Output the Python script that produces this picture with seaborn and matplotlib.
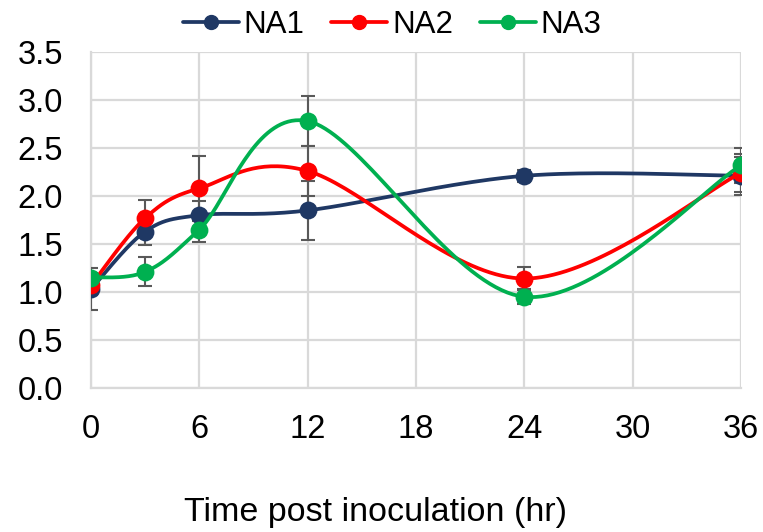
import numpy as np
import pandas as pd
import seaborn as sns
import matplotlib.pyplot as plt
from matplotlib.lines import Line2D

# values
hours = [0, 3, 6, 12, 24, 36]
na1 = [1.03, 1.63, 1.80, 1.85, 2.21, 2.21]
na2 = [1.07, 1.77, 2.08, 2.26, 1.14, 2.24]
na3 = [1.15, 1.21, 1.65, 2.78, 0.95, 2.32]
na1_err = [0.22, 0.14, 0.15, 0.31, 0.06, 0.20]
na2_err = [0.10, 0.19, 0.34, 0.26, 0.12, 0.20]
na3_err = [0.05, 0.15, 0.13, 0.26, 0.08, 0.18]

series = ['NA1', 'NA2', 'NA3']
colors = {'NA1': '#1f3864', 'NA2': '#ff0000', 'NA3': '#00b050'}


def smooth(x, y, sx=18.06, sy=96.0, n=40):
    # Excel style smoothed line: bezier with catmull-rom control points (in screen space)
    p = np.column_stack([np.asarray(x, float) * sx, np.asarray(y, float) * sy])
    out = []
    for i in range(len(p) - 1):
        p0 = p[i - 1] if i > 0 else p[i]
        p1, p2 = p[i], p[i + 1]
        p3 = p[i + 2] if i + 2 < len(p) else p[i + 1]
        c1 = p1 + (p2 - p0) / 6
        c2 = p2 - (p3 - p1) / 6
        t = np.linspace(0, 1, n)[:, None]
        seg = (1 - t) ** 3 * p1 + 3 * (1 - t) ** 2 * t * c1 + 3 * (1 - t) * t ** 2 * c2 + t ** 3 * p2
        out.append(seg if i == 0 else seg[1:])
    out = np.vstack(out)
    return out[:, 0] / sx, out[:, 1] / sy


sns.set_style('white')
plt.rcParams['font.family'] = ['Liberation Sans', 'DejaVu Sans']
plt.rcParams['text.color'] = 'black'
plt.rcParams['axes.labelcolor'] = 'black'
plt.rcParams['xtick.color'] = 'black'
plt.rcParams['ytick.color'] = 'black'

fig, ax = plt.subplots(figsize=(7.63, 5.32), dpi=100)
fig.subplots_adjust(left=0.1193, right=0.9712, top=0.9023, bottom=0.2707)

for name, vals, err in zip(series, [na1, na2, na3], [na1_err, na2_err, na3_err]):
    ax.errorbar(hours, vals, yerr=err, fmt='none', ecolor='#595959',
                elinewidth=1.5, capsize=5, capthick=1.5, zorder=3)

for k, (name, vals) in enumerate(zip(series, [na1, na2, na3])):
    sx, sy = smooth(hours, vals)
    curve = pd.DataFrame({'x': sx, 'y': sy})
    sns.lineplot(data=curve, x='x', y='y', sort=False, ax=ax, color=colors[name],
                 linewidth=2.7, zorder=4 + k)
    pts = pd.DataFrame({'x': hours, 'y': vals})
    sns.scatterplot(data=pts, x='x', y='y', ax=ax, color=colors[name], s=165,
                    edgecolor=colors[name], linewidth=0, zorder=4 + k)

ax.set_xlim(0, 36)
ax.set_ylim(0, 3.5)
ax.set_xticks(range(0, 37, 6))
ax.set_yticks(np.arange(0, 3.51, 0.5))
ax.set_yticklabels([f'{v:.1f}' for v in np.arange(0, 3.51, 0.5)])
ax.grid(True, color='#d9d9d9', linewidth=1.6)
ax.set_axisbelow(True)
for side in ['top', 'right']:
    ax.spines[side].set_visible(False)
for side in ['left', 'bottom']:
    ax.spines[side].set_color('#d9d9d9')
    ax.spines[side].set_linewidth(1.6)
ax.tick_params(axis='both', length=0, labelsize=23.5)
ax.tick_params(axis='x', pad=19)
ax.tick_params(axis='y', pad=20)
ax.set_xlabel('Time post inoculation (hr)', fontsize=24.5)
ax.xaxis.set_label_coords(0.438, -0.325)
ax.set_ylabel('')

handles = [Line2D([0], [0], color=colors[s], linewidth=2.7, marker='o', markersize=10)
           for s in series]
fig.legend(handles, series, loc='upper center', bbox_to_anchor=(0.514, 1.035), ncol=3,
           frameon=False, fontsize=22.5, handlelength=1.8, handletextpad=0.15, columnspacing=0.85)

fig.savefig('out.png', dpi=100)
